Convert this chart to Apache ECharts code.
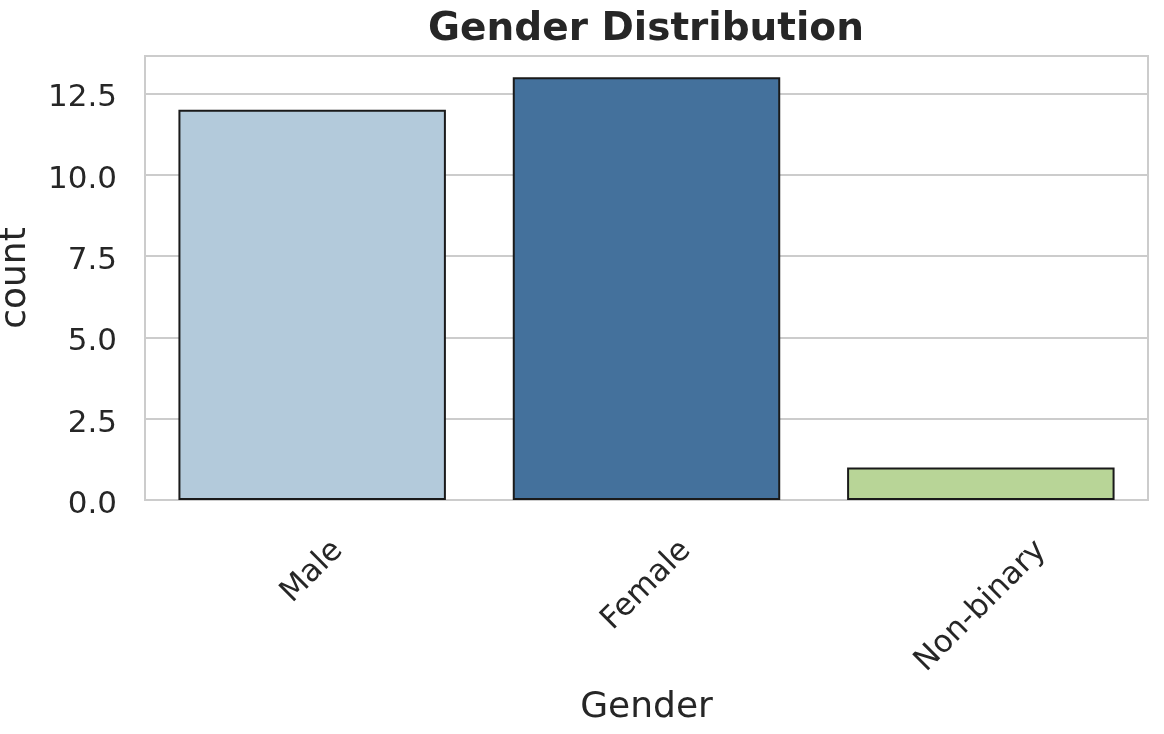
<!DOCTYPE html>
<html>
<head>
<meta charset="utf-8">
<style>
  html, body { margin: 0; padding: 0; background: #fff; }
  #chart { width: 1164px; height: 734px; }
</style>
<script src="https://cdn.jsdelivr.net/npm/echarts@6/dist/echarts.min.js"></script>
</head>
<body>
<div id="chart"></div>
<script>
const categories = ['Male', 'Female', 'Non-binary']
const counts = [12, 13, 1]
const barColors = ['#b3cadb', '#44719c', '#b8d597']
const yTicks = [0, 2.5, 5, 7.5, 10, 12.5]

const FONT = 'DejaVu Sans'
const TEXT = '#262626'
const LABEL_SIZE = 31

// matplotlib centres rotated tick labels under the tick, echarts anchors them.
// shift each label straight down by half of its extra rotated height:
// a blank first line moves it along local y, right padding along local x
const measure = (text) => {
  const ctx = document.createElement('canvas').getContext('2d')
  ctx.font = `${LABEL_SIZE}px "${FONT}"`
  return ctx.measureText(text).width
}
const lineH = LABEL_SIZE * 1.17
const rotH = categories.map(c => (measure(c) + lineH) * Math.SQRT1_2)
const minH = Math.min(...rotH)
const labelPad = 33
const L0 = 40

const xData = categories.map((c, i) => {
  const s = (rotH[i] - minH) / 2
  const k = L0 + Math.SQRT2 * s
  return {
    value: c,
    textStyle: {
      align: 'center',
      verticalAlign: 'middle',
      lineHeight: k,
      padding: [0, k, 0, 0],
      fontFamily: FONT,
      fontSize: LABEL_SIZE,
      color: TEXT
    }
  }
})

const chart = echarts.init(document.getElementById('chart'))

chart.setOption({
  animation: false,
  textStyle: { fontFamily: FONT, color: TEXT },
  title: {
    text: 'Gender Distribution',
    left: 641,
    top: 5,
    textAlign: 'center',
    textStyle: { fontFamily: FONT, fontSize: 39, fontWeight: 'bold', color: TEXT }
  },
  grid: {
    left: 145, right: 16, top: 56, bottom: 234,
    show: true, borderColor: '#cccccc', borderWidth: 2,
    containLabel: false,
    outerBoundsMode: 'none'
  },
  xAxis: {
    type: 'category',
    data: xData,
    name: 'Gender',
    nameLocation: 'middle',
    nameGap: 190,
    nameMoveOverlap: false,
    nameTextStyle: { fontFamily: FONT, fontSize: 36, color: TEXT },
    axisLine: { show: false },
    axisTick: { show: false },
    axisLabel: {
      interval: 0,
      rotate: 45,
      margin: labelPad + minH / 2 - L0 * Math.SQRT1_2,
      formatter: v => '\n' + v
    }
  },
  yAxis: {
    type: 'value',
    min: 0,
    max: 13.65,
    interval: 2.5,
    name: 'count',
    nameLocation: 'middle',
    nameGap: 111,
    nameMoveOverlap: false,
    nameTextStyle: { fontFamily: FONT, fontSize: 36, color: TEXT },
    axisLine: { show: false },
    axisTick: { show: false },
    axisLabel: {
      margin: 28,
      verticalAlign: 'top',
      lineHeight: 10,
      fontFamily: FONT,
      fontSize: LABEL_SIZE,
      color: TEXT,
      formatter: v => yTicks.includes(v) ? v.toFixed(1) : ''
    },
    splitLine: { lineStyle: { color: '#cccccc', width: 2 } }
  },
  series: [{
    type: 'bar',
    barCategoryGap: '20%',
    data: counts.map((v, i) => ({
      value: v,
      itemStyle: { color: barColors[i] }
    })),
    itemStyle: { borderColor: '#1a1a1a', borderWidth: 2 }
  }]
})

window.addEventListener('resize', () => chart.resize())
</script>
</body>
</html>
